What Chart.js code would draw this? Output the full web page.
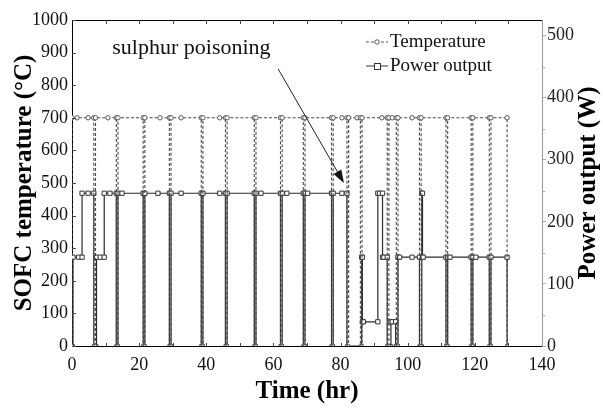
<!DOCTYPE html>
<html>
<head>
<meta charset="utf-8">
<script src="https://cdn.jsdelivr.net/npm/chart.js@4/dist/chart.umd.min.js"></script>
<style>
  html, body { margin: 0; padding: 0; background: #fff; }
  #wrap { width: 603px; height: 408px; }
</style>
</head>
<body>
<div id="wrap"><canvas id="c" width="603" height="408"></canvas></div>
<script>
// ---- data ----
const xTicks = [0, 20, 40, 60, 80, 100, 120, 140];
const tempTicks = [0, 100, 200, 300, 400, 500, 600, 700, 800, 900, 1000];
const powerTicks = [0, 100, 200, 300, 400, 500];

// SOFC temperature (°C) vs time (hr)
const tempTime = [
  0, 0, 1.5, 4.8,
  6.5, 6.5, 7.0, 7.0, 10.7,
  13.2, 13.2, 13.7, 13.7,
  21.2, 21.2, 21.7, 21.7, 26.2,
  29.0, 29.0, 29.5, 29.5, 32.5,
  38.5, 38.5, 39.0, 39.0, 44.0,
  45.7, 45.7, 46.2, 46.2,
  54.3, 54.3, 54.8, 54.8,
  62.1, 62.1, 62.6, 62.6,
  68.9, 68.9, 69.4, 69.4,
  77.3, 77.3, 77.8, 77.8, 80.4,
  81.9, 81.9, 82.4, 82.4, 84.9,
  85.9, 85.9, 86.4, 86.4, 92.3,
  93.9, 93.9, 94.4, 94.4, 95.4,
  96.6, 96.6, 97.1, 97.1, 101.3,
  103.5, 103.5, 104.0, 104.0,
  111.4, 111.4, 111.9, 111.9,
  118.9, 118.9, 119.4, 119.4,
  124.3, 124.3, 124.8, 124.8,
  129.6, 129.6
];
const tempValue = [
  0, 700, 700, 700,
  700, 0, 0, 700, 700,
  700, 0, 0, 700,
  700, 0, 0, 700, 700,
  700, 0, 0, 700, 700,
  700, 0, 0, 700, 700,
  700, 0, 0, 700,
  700, 0, 0, 700,
  700, 0, 0, 700,
  700, 0, 0, 700,
  700, 0, 0, 700, 700,
  700, 0, 0, 700, 700,
  700, 0, 0, 700, 700,
  700, 0, 0, 700, 700,
  700, 0, 0, 700, 700,
  700, 0, 0, 700,
  700, 0, 0, 700,
  700, 0, 0, 700,
  700, 0, 0, 700,
  700, 0
];

// Power output (W) vs time (hr)
const powerTime = [
  0.3, 0.3, 2.0, 3.0, 3.0, 4.8, 6.5, 6.5,
  7.3, 7.3, 8.4, 9.6, 9.6, 11.3, 13.2, 13.2,
  13.7, 13.7, 14.9, 21.2, 21.2,
  21.7, 21.7, 25.6, 29.0, 29.0,
  29.5, 29.5, 32.5, 38.5, 38.5,
  39.0, 39.0, 44.0, 45.7, 45.7,
  46.2, 46.2, 54.3, 54.3,
  54.8, 54.8, 56.3, 62.1, 62.1,
  62.6, 62.6, 64.0, 68.9, 68.9,
  69.4, 69.4, 70.2, 77.3, 77.3,
  77.8, 77.8, 80.4, 81.9, 81.9,
  86.3, 86.3, 86.5, 86.5, 86.8, 91.1,
  91.1, 91.6, 92.5, 92.5, 92.9, 93.9, 93.9,
  95.0, 95.0, 95.4, 96.4, 96.4,
  97.1, 97.1, 97.6, 101.3, 103.5, 103.5,
  104.2, 104.2, 104.4, 104.4, 104.6, 111.4, 111.4,
  111.9, 111.9, 112.6, 118.9, 118.9,
  119.4, 119.4, 120.3, 124.3, 124.3,
  124.8, 124.8, 129.6, 129.6
];
const powerValue = [
  0, 143, 143, 143, 246, 246, 246, 0,
  0, 143, 143, 143, 246, 246, 246, 0,
  0, 246, 246, 246, 0,
  0, 246, 246, 246, 0,
  0, 246, 246, 246, 0,
  0, 246, 246, 246, 0,
  0, 246, 246, 0,
  0, 246, 246, 246, 0,
  0, 246, 246, 246, 0,
  0, 246, 246, 246, 0,
  0, 246, 246, 246, 0,
  0, 143, 143, 39, 39, 39,
  246, 246, 246, 143, 143, 143, 0,
  0, 39, 39, 39, 0,
  0, 143, 143, 143, 143, 0,
  0, 246, 246, 143, 143, 143, 0,
  0, 143, 143, 143, 0,
  0, 143, 143, 143, 0,
  0, 143, 143, 0
];

const seriesNames = ['Temperature', 'Power output'];
const annotationText = 'sulphur poisoning';
const xTitle = 'Time (hr)';
const yTitle = 'SOFC temperature (°C)';
const y2Title = 'Power output (W)';

// ---- chart ----
const SERIF = '"Liberation Serif", "Times New Roman", serif';
const toPts = (xs, ys) => xs.map((x, i) => ({ x: x, y: ys[i] }));

const tickFilter = (allowed) => (scale) => {
  scale.ticks = allowed.map(v => ({ value: v }));
};
const plainLabel = (v) => String(v);

const decorPlugin = {
  id: 'decor',
  afterDraw(chart) {
    const ctx = chart.ctx;
    const a = chart.chartArea;
    const xs = chart.scales.x, ys = chart.scales.y, y2 = chart.scales.y1;
    ctx.save();
    // top border
    ctx.strokeStyle = '#000';
    ctx.lineWidth = 1;
    ctx.beginPath();
    ctx.moveTo(a.left, a.top + 0.5);
    ctx.lineTo(a.right, a.top + 0.5);
    ctx.stroke();
    // inner ticks on top (every 10 hr) and left (every 100)
    ctx.strokeStyle = '#444';
    for (let v = 10; v < 140; v += 10) {
      const px = Math.round(xs.getPixelForValue(v)) + 0.5;
      ctx.beginPath(); ctx.moveTo(px, a.top); ctx.lineTo(px, a.top + 4); ctx.stroke();
      ctx.beginPath(); ctx.moveTo(px, a.bottom); ctx.lineTo(px, a.bottom - 3); ctx.stroke();
    }
    tempTicks.forEach(v => {
      const py = Math.round(ys.getPixelForValue(v)) + 0.5;
      ctx.beginPath(); ctx.moveTo(a.left, py); ctx.lineTo(a.left + 4, py); ctx.stroke();
    });
    // minor ticks on right axis
    ctx.strokeStyle = '#aaa';
    for (let v = 50; v < 525; v += 100) {
      const py = Math.round(y2.getPixelForValue(v)) + 0.5;
      ctx.beginPath(); ctx.moveTo(a.right, py); ctx.lineTo(a.right + 3, py); ctx.stroke();
    }

    // right axis title, reading bottom to top
    ctx.fillStyle = '#000';
    ctx.font = 'bold 25px ' + SERIF;
    ctx.textAlign = 'center';
    ctx.textBaseline = 'middle';
    ctx.save();
    ctx.translate(589, (a.top + a.bottom) / 2);
    ctx.rotate(-Math.PI / 2);
    ctx.fillText(y2Title, 0, 0);
    ctx.restore();

    // legend
    const lx0 = 366, lx1 = 388, tx = 390;
    const rows = [42, 66];
    ctx.font = '19px ' + SERIF;
    ctx.textAlign = 'left';
    ctx.textBaseline = 'middle';
    ctx.strokeStyle = '#555';
    ctx.lineWidth = 1;
    ctx.setLineDash([3, 2]);
    ctx.beginPath(); ctx.moveTo(lx0, rows[0]); ctx.lineTo(lx1, rows[0]); ctx.stroke();
    ctx.setLineDash([]);
    ctx.fillStyle = '#fff';
    ctx.beginPath(); ctx.arc((lx0 + lx1) / 2, rows[0], 2.2, 0, Math.PI * 2); ctx.fill(); ctx.stroke();
    ctx.strokeStyle = '#333';
    ctx.beginPath(); ctx.moveTo(lx0, rows[1]); ctx.lineTo(lx1, rows[1]); ctx.stroke();
    ctx.fillStyle = '#fff';
    ctx.fillRect((lx0 + lx1) / 2 - 3, rows[1] - 3, 6, 6);
    ctx.strokeRect((lx0 + lx1) / 2 - 3 + 0.5, rows[1] - 3 + 0.5, 6, 6);
    ctx.fillStyle = '#111';
    ctx.fillText(seriesNames[0], tx, rows[0]);
    ctx.fillText(seriesNames[1], tx, rows[1]);

    // annotation text + arrow
    ctx.font = '22px ' + SERIF;
    ctx.fillStyle = '#111';
    ctx.textAlign = 'left';
    ctx.fillText(annotationText, xs.getPixelForValue(12), ys.getPixelForValue(914));
    const x0 = xs.getPixelForValue(61.4), y0 = ys.getPixelForValue(850);
    const x1 = xs.getPixelForValue(81.0), y1 = ys.getPixelForValue(500);
    const ang = Math.atan2(y1 - y0, x1 - x0);
    const hl = 13, hw = 4.5;
    const bx = x1 - hl * Math.cos(ang), by = y1 - hl * Math.sin(ang);
    ctx.strokeStyle = '#222';
    ctx.lineWidth = 1;
    ctx.beginPath(); ctx.moveTo(x0, y0); ctx.lineTo(bx, by); ctx.stroke();
    ctx.fillStyle = '#111';
    ctx.beginPath();
    ctx.moveTo(x1, y1);
    ctx.lineTo(bx + hw * Math.sin(ang), by - hw * Math.cos(ang));
    ctx.lineTo(bx - hw * Math.sin(ang), by + hw * Math.cos(ang));
    ctx.closePath();
    ctx.fill();
    ctx.restore();
  }
};

new Chart(document.getElementById('c'), {
  type: 'line',
  data: {
    datasets: [
      {
        label: seriesNames[1],
        data: toPts(powerTime, powerValue),
        yAxisID: 'y1',
        borderColor: '#2a2a2a',
        borderWidth: 1.2,
        pointStyle: 'rect',
        pointRadius: (c) => (c.raw && c.raw.y === 0 ? 2 : 3),
        pointBackgroundColor: '#fff',
        pointBorderColor: '#333',
        pointBorderWidth: 1,
        tension: 0,
        order: 2
      },
      {
        label: seriesNames[0],
        data: toPts(tempTime, tempValue),
        yAxisID: 'y',
        borderColor: '#4a4a4a',
        borderWidth: 1.1,
        borderDash: [3, 2],
        pointStyle: 'circle',
        pointRadius: (c) => (c.raw && c.raw.y === 0 ? 1.5 : 2.2),
        pointBackgroundColor: '#fff',
        pointBorderColor: '#555',
        pointBorderWidth: 1,
        tension: 0,
        order: 1
      }
    ]
  },
  options: {
    responsive: false,
    animation: false,
    events: [],
    layout: { padding: { top: 20, left: 0, right: 0, bottom: 0 } },
    plugins: { legend: { display: false }, tooltip: { enabled: false } },
    scales: {
      x: {
        type: 'linear',
        min: 0, max: 140,
        afterBuildTicks: tickFilter(xTicks),
        afterFit: (s) => { s.height = 62; },
        border: { display: true, color: '#000', width: 1 },
        grid: { drawOnChartArea: false, drawTicks: false },
        ticks: { color: '#111', padding: 8, font: { family: SERIF, size: 18 }, maxRotation: 0, callback: plainLabel },
        title: { display: true, text: xTitle, color: '#000',
                 font: { family: SERIF, size: 25, weight: 'bold' }, padding: { top: 0, bottom: 1 } }
      },
      y: {
        type: 'linear', position: 'left',
        min: 0, max: 1000,
        afterBuildTicks: tickFilter(tempTicks),
        afterFit: (s) => { s.width = 72; },
        border: { display: true, color: '#000', width: 1 },
        grid: { drawOnChartArea: false, drawTicks: false },
        ticks: { color: '#111', padding: 4, font: { family: SERIF, size: 18 }, callback: plainLabel },
        title: { display: true, text: yTitle, color: '#000',
                 font: { family: SERIF, size: 25, weight: 'bold' }, padding: { top: 10, bottom: 0 } }
      },
      y1: {
        type: 'linear', position: 'right',
        min: 0, max: 525,
        afterBuildTicks: tickFilter(powerTicks),
        afterFit: (s) => { s.width = 61; },
        border: { display: true, color: '#999', width: 1 },
        grid: { drawOnChartArea: false, drawTicks: true, tickLength: 4, color: '#aaa' },
        ticks: { color: '#222', padding: 1, font: { family: SERIF, size: 18 }, callback: plainLabel },
        title: { display: false }
      }
    }
  },
  plugins: [decorPlugin]
});
</script>
</body>
</html>
